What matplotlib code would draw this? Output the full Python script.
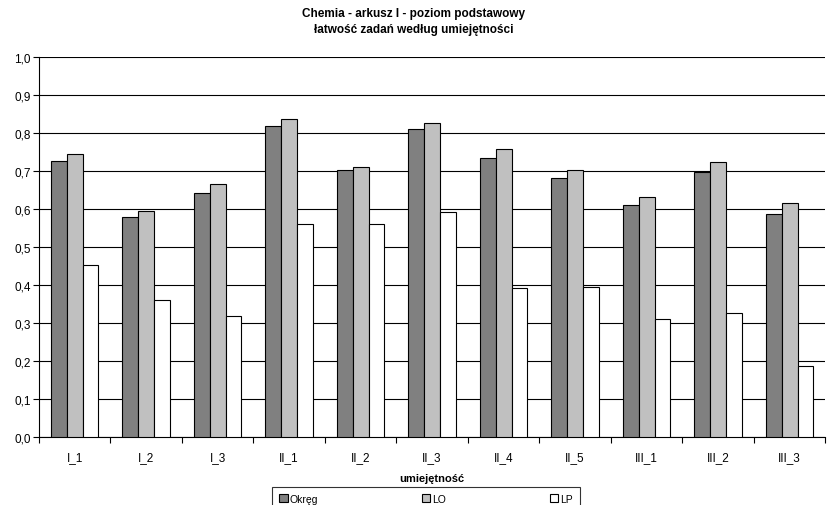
import numpy as np
import matplotlib
matplotlib.use("Agg")
import matplotlib.pyplot as plt

plt.rcParams['font.family'] = ['Liberation Sans', 'DejaVu Sans']

categories = ["I_1", "I_2", "I_3", "II_1", "II_2", "II_3", "II_4", "II_5", "III_1", "III_2", "III_3"]
okreg = [0.726, 0.580, 0.643, 0.820, 0.702, 0.811, 0.735, 0.682, 0.611, 0.699, 0.587]
lo = [0.746, 0.596, 0.666, 0.837, 0.711, 0.827, 0.759, 0.702, 0.632, 0.725, 0.615]
lp = [0.452, 0.360, 0.318, 0.561, 0.560, 0.592, 0.393, 0.394, 0.311, 0.326, 0.186]
series_names = ["Okręg", "LO", "LP"]
y_ticks = [0.0, 0.1, 0.2, 0.3, 0.4, 0.5, 0.6, 0.7, 0.8, 0.9, 1.0]

fig = plt.figure(figsize=(8.27, 5.06), dpi=100)
ax = fig.add_axes([0.047, 0.1344, 0.951, 0.7504])

x = np.arange(len(categories))
w = 0.667 / 3
colors = ["#808080", "#c0c0c0", "#ffffff"]
for i, (vals, name) in enumerate(zip([okreg, lo, lp], series_names)):
    ax.bar(x + (i - 1) * w, vals, w, color=colors[i], edgecolor="black",
           linewidth=0.8, label=name, zorder=3)

ax.set_xlim(-0.5, len(categories) - 0.5)
ax.set_ylim(0, 1.0)
ax.set_yticks(y_ticks)
ax.set_yticklabels([f"{v:.1f}".replace(".", ",") for v in y_ticks], fontsize=8.5)
ax.set_xticks(x)
ax.set_xticklabels(categories, fontsize=8.5)
ax.set_xticks(np.arange(len(categories) + 1) - 0.5, minor=True)
ax.tick_params(axis="x", which="major", length=0, pad=10)
ax.tick_params(axis="x", which="minor", length=4, width=0.8, direction="out")
ax.tick_params(axis="y", length=4, width=0.8, direction="out", pad=2)

ax.grid(axis="y", color="black", linewidth=0.8, zorder=0)
for s in ["top", "right"]:
    ax.spines[s].set_visible(False)
ax.spines["left"].set_linewidth(0.8)
ax.spines["bottom"].set_linewidth(0.8)

fig.text(0.5, 0.972, "Chemia - arkusz I - poziom podstawowy", ha="center", va="center",
         fontsize=8.5, fontweight="bold")
fig.text(0.5, 0.940, "łatwość zadań według umiejętności", ha="center", va="center",
         fontsize=8.5, fontweight="bold")
ax.set_xlabel("umiejętność", fontsize=8, fontweight="bold", labelpad=7)

# legenda ucięta dolną krawędzią obrazka, jak w oryginale
leg = fig.legend(loc="upper left", bbox_to_anchor=(272 / 827, 0.0, 308 / 827, 0.036),
                 mode="expand", ncol=3, fontsize=7.5, frameon=True, fancybox=False,
                 edgecolor="black", handlelength=0.8, handleheight=0.8,
                 handletextpad=0.2, borderpad=0.7, borderaxespad=0)
leg.get_frame().set_linewidth(0.8)

fig.savefig("out.png", dpi=100)
